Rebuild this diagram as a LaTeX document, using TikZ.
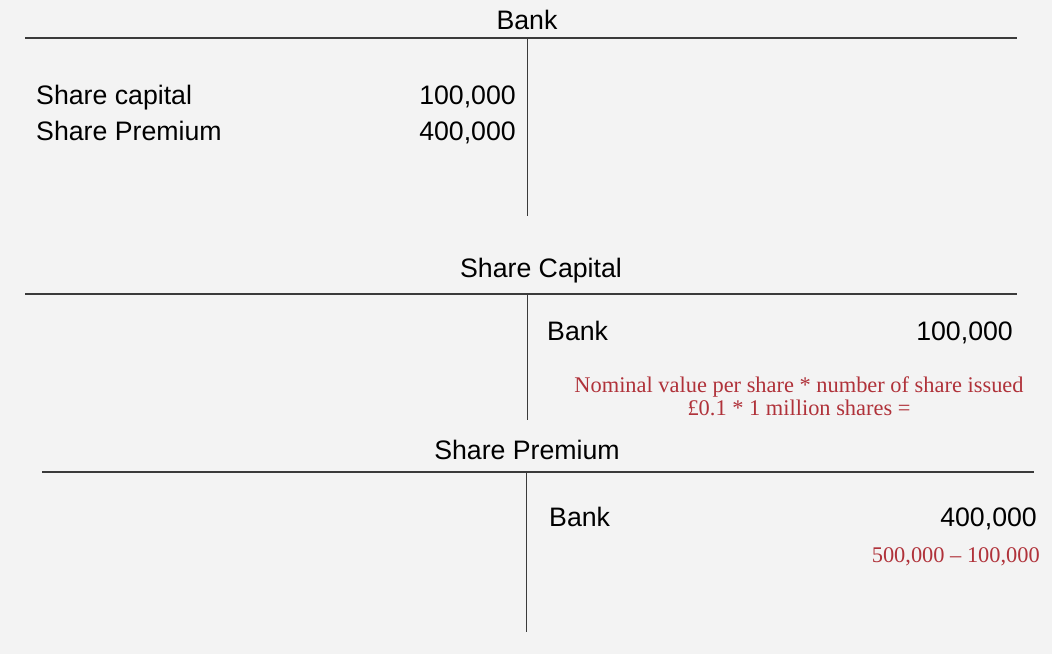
\documentclass[tikz,border=0pt]{standalone}
\usepackage{fontspec}
\setmainfont{Liberation Sans}
\newfontfamily\serifred{Liberation Serif}
\definecolor{bg}{HTML}{F3F3F3}
\definecolor{rule}{HTML}{3A3A3A}
\definecolor{note}{HTML}{B0323A}
\begin{document}
\begin{tikzpicture}[x=1pt,y=-1pt,
  lbl/.style={inner sep=0pt,font=\fontsize{26.7}{30}\selectfont,text=black},
  rednote/.style={inner sep=0pt,font=\serifred\fontsize{22.4}{23}\selectfont,text=note,align=center},
  tline/.style={draw=rule,line width=1.1pt},
  vline/.style={draw=rule,line width=1pt}]
\fill[bg] (0,0) rectangle (1052,654);
\useasboundingbox (0,0) rectangle (1052,654);
% Bank account
\node[lbl,anchor=base] (t1) at (527,29) {Bank};
\coordinate (l1a) at (25,38); \coordinate (l1b) at (1017,38);
\coordinate (v1a) at (527,38); \coordinate (v1b) at (527,216);
\draw[tline] (l1a) -- (l1b);
\draw[vline] (v1a) -- (v1b);
\node[lbl,anchor=base west] (b1) at (36,104) {Share capital};
\node[lbl,anchor=base east] (b1v) at (516,104) {100,000};
\node[lbl,anchor=base west] (b2) at (36,140) {Share Premium};
\node[lbl,anchor=base east] (b2v) at (516,140) {400,000};
% Share capital account
\node[lbl,anchor=base] (t2) at (541,277) {Share Capital};
\coordinate (l2a) at (25,294); \coordinate (l2b) at (1017,294);
\coordinate (v2a) at (527,294); \coordinate (v2b) at (527,420);
\draw[tline] (l2a) -- (l2b);
\draw[vline] (v2a) -- (v2b);
\node[lbl,anchor=base west] (c1) at (547,340) {Bank};
\node[lbl,anchor=base east] (c1v) at (1013,340) {100,000};
\node[rednote,anchor=base] (n1) at (799,415) {Nominal value per share * number of share issued\\£0.1 * 1 million shares =};
% Share premium account
\node[lbl,anchor=base] (t3) at (527,459) {Share Premium};
\coordinate (l3a) at (42,472); \coordinate (l3b) at (1034,472);
\coordinate (v3a) at (526,472); \coordinate (v3b) at (526,632);
\draw[tline] (l3a) -- (l3b);
\draw[vline] (v3a) -- (v3b);
\node[lbl,anchor=base west] (p1) at (549,526) {Bank};
\node[lbl,anchor=base east] (p1v) at (1037,526) {400,000};
\node[rednote,anchor=base east] (n2) at (1040,562) {500,000 – 100,000};
\end{tikzpicture}
\end{document}
